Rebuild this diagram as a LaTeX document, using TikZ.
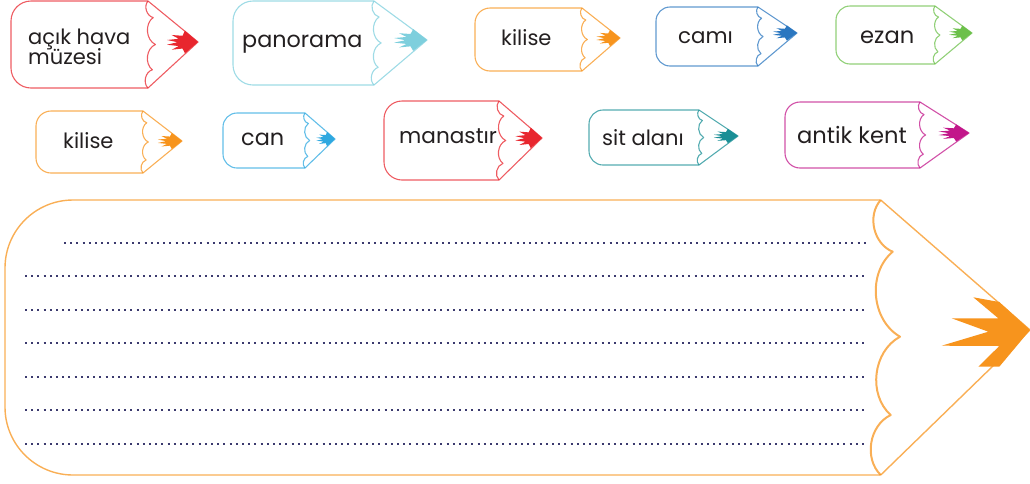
\documentclass[tikz,border=0pt]{standalone}
\usepackage{fontspec}
\setmainfont{Poppins}
\definecolor{ink}{HTML}{231F20}
\definecolor{dotc}{HTML}{3B3A6E}
\definecolor{cred}{HTML}{E8262E}
\definecolor{ccyan}{HTML}{7ECFDD}
\definecolor{corange}{HTML}{F7941D}
\definecolor{cblue}{HTML}{2B77C0}
\definecolor{cgreen}{HTML}{6CC04A}
\definecolor{csky}{HTML}{2EA8E0}
\definecolor{cteal}{HTML}{1A8F96}
\definecolor{cmag}{HTML}{C2168A}
\tikzset{
  word/.style={font={\fontsize{#1}{20}\selectfont\lineskiplimit=-50pt}, text=ink, inner sep=0pt, anchor=base west},
  word/.default=22,
  outline/.style={line width=1.1pt, line join=round, draw opacity=0.75},
  dotrow/.style={dotc, line width=2pt, dash pattern=on 2pt off 4.2pt}
}
% #1 colour, #2 left x, #3 top y, #4 bottom y, #5 scallop x, #6 tip x, #7 tip y, #8 corner radius
\newcommand\pencildraw[8]{%
  \pgfmathsetmacro\ph{#4-#3}%
  \pgfmathsetmacro\ya{#3+0.19*\ph}%
  \pgfmathsetmacro\yb{#3+0.5*\ph}%
  \pgfmathsetmacro\yc{#3+0.79*\ph}%
  \pgfmathsetmacro\xa{#5+0.06*\ph}%
  \pgfmathsetmacro\xb{#5+0.085*\ph}%
  \pgfmathsetmacro\xc{#5+0.05*\ph}%
  \pgfmathsetmacro\lx{0.62*(#6-#5)}%
  \pgfmathsetmacro\lh{0.13*\ph}%
  \draw[outline,#1,rounded corners=#8] (#5,#3) -- (#2,#3) -- (#2,#4) -- (#5,#4);
  \draw[outline,#1] (#5,#4) -- (#6,#7) -- (#5,#3);
  \draw[outline,#1] (#5,#3) to[bend right=60] (\xa,\ya) to[bend right=60] (\xb,\yb)
     to[bend right=60] (\xc,\yc) to[bend right=60] (#5,#4);
  \fill[#1,shift={(#6,#7)},xscale=\lx,yscale=\lh]
     (0,0) -- (-0.42,-1) -- (-0.5,-0.55) -- (-0.85,-0.62) -- (-0.62,-0.28) -- (-1,-0.18)
     -- (-0.66,0.02) -- (-1,0.24) -- (-0.62,0.36) -- (-0.85,0.68) -- (-0.5,0.58) -- (-0.42,1) -- cycle;
}
\begin{document}
\begin{tikzpicture}[x=1pt,y=-1pt]
\useasboundingbox (0,0) rectangle (1030,483);
% row 1
\pencildraw{cred}{11}{1}{88}{148}{198}{42}{20}
\node[word=21,align=left] (t1) at (28,64) {açık hava\\müzesi};
\pencildraw{ccyan}{233}{1}{85}{374}{427}{40}{20}
\node[word=22.3] (t2) at (242,47) {panorama};
\pencildraw{corange}{475}{8}{71}{582}{620}{38}{15}
\node[word=21] (t3) at (501,45) {kilise};
\pencildraw{cblue}{656}{7}{66}{758}{797}{33}{14}
\node[word=21.4] (t4) at (678,43) {camı};
\pencildraw{cgreen}{836}{6}{64}{935}{972}{33}{14}
\node[word=22.6] (t5) at (860,43) {ezan};
% row 2
\pencildraw{corange}{36}{111}{173}{143}{182}{141}{15}
\node[word=21] (t6) at (63,148) {kilise};
\pencildraw{csky}{223}{113}{168}{305}{335}{139}{14}
\node[word=22.4] (t7) at (241,145) {can};
\pencildraw{cred}{384}{101}{180}{499}{542}{138}{18}
\node[word=21.6] (t8) at (399,143) {manastır};
\pencildraw{cteal}{589}{110}{165}{699}{738}{136}{14}
\node[word=21] (t9) at (602,145) {sit alanı};
\pencildraw{cmag}{785}{102}{168}{920}{969}{133}{15}
\node[word=22.6] (t10) at (797,143) {antik kent};
% big pencil
\begin{scope}[corange]
\draw[outline,line width=1.4pt,rounded corners=68] (880.7,200) -- (5,200) -- (5,475) -- (880.7,475);
\draw[outline,line width=1.4pt] (880.7,475) -- (1030,330) -- (880.7,200);
\draw[outline,line width=2pt] (880.7,200) to[bend right=55] (892.7,251.7) to[bend right=55] (900,336.7)
   to[bend right=55] (890.7,415) to[bend right=55] (880.7,475);
\coordinate (tip) at (1030,330);
\fill[shift={(tip)}] (0,0) -- (-30.7,-28) -- (-56.7,-32.7) -- (-31.7,-11.7) -- (-78.3,-11.7)
  -- (-41.7,1.7) -- (-88.3,15.7) -- (-30.7,16) -- (-51.7,36.7) -- (-30.7,36.7) -- cycle;
\end{scope}
\draw[dotrow] (64,242.5) -- (866,242.5);
\foreach \y in {276,309.5,343,376.5,410,443.5}{
  \draw[dotrow] (25,\y) -- (866,\y);
}
\end{tikzpicture}
\end{document}
